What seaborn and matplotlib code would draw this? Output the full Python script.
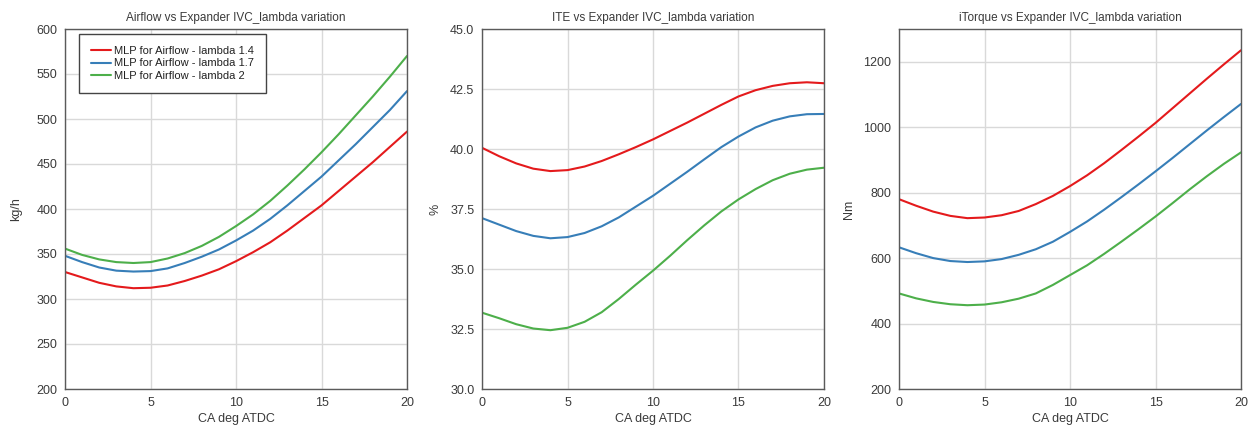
import numpy as np
import pandas as pd
import seaborn as sns
import matplotlib.pyplot as plt

# ============ Data ============
ca = list(range(0, 21))
lambdas = ['lambda 1.4', 'lambda 1.7', 'lambda 2']

airflow_14 = [330, 324, 318, 314, 312, 312.5, 315, 320, 326, 333, 342,
              352, 363, 376, 390, 404, 420, 436, 452, 469, 486]
airflow_17 = [348, 341, 335, 331.5, 330.5, 331, 334, 340, 347, 355, 365,
              376, 389, 404, 420, 436, 454, 472, 491, 510, 531]
airflow_20 = [356, 349, 344, 341, 340, 341, 345, 351, 359, 369, 381,
              394, 409, 426, 444, 463, 483, 504, 525, 547, 570]

ite_14 = [40.05, 39.7, 39.4, 39.18, 39.08, 39.12, 39.27, 39.5, 39.78, 40.08, 40.4,
          40.75, 41.1, 41.47, 41.84, 42.19, 42.45, 42.63, 42.74, 42.78, 42.74]
ite_17 = [37.12, 36.85, 36.58, 36.38, 36.28, 36.33, 36.5, 36.78, 37.15, 37.6, 38.05,
          38.55, 39.05, 39.57, 40.08, 40.52, 40.9, 41.18, 41.36, 41.45, 41.46]
ite_20 = [33.18, 32.95, 32.7, 32.52, 32.45, 32.55, 32.8, 33.2, 33.75, 34.35, 34.93,
          35.55, 36.2, 36.82, 37.4, 37.9, 38.33, 38.7, 38.97, 39.14, 39.22]

torque_14 = [780, 760, 742, 729, 722, 724, 731, 744, 765, 790, 820,
             853, 890, 930, 971, 1013, 1058, 1103, 1148, 1192, 1235]
torque_17 = [633, 615, 600, 591, 588, 590, 597, 610, 627, 650, 680,
             712, 748, 786, 825, 865, 906, 948, 990, 1031, 1071]
torque_20 = [492, 477, 466, 459, 456, 458, 465, 476, 492, 518, 548,
             578, 613, 650, 688, 727, 768, 810, 850, 888, 923]


def long_df(series):
    frames = []
    for lam, vals in zip(lambdas, series):
        frames.append(pd.DataFrame({'CA': ca, 'value': vals,
                                    'series': 'MLP for Airflow - ' + lam}))
    return pd.concat(frames, ignore_index=True)


panels = [
    ('Airflow vs Expander IVC_lambda variation', 'kg/h',
     long_df([airflow_14, airflow_17, airflow_20]), (200, 600), np.arange(200, 601, 50), '{:.0f}'),
    ('ITE vs Expander IVC_lambda variation', '%',
     long_df([ite_14, ite_17, ite_20]), (30, 45), np.arange(30, 45.1, 2.5), '{:.1f}'),
    ('iTorque vs Expander IVC_lambda variation', 'Nm',
     long_df([torque_14, torque_17, torque_20]), (200, 1300), np.arange(200, 1201, 200), '{:.0f}'),
]

# ============ Style ============
sns.set_style('whitegrid')
plt.rcParams['font.family'] = ['Liberation Sans', 'DejaVu Sans']
plt.rcParams['font.size'] = 8.5
palette = ['#e41a1c', '#377eb8', '#4daf4a']
text_c = '#3a3a3a'

fig = plt.figure(figsize=(12.55, 4.26), dpi=100)
lefts = [65 / 1255, 482 / 1255, 899 / 1255]
for i, (title, ylab, df, ylim, yt, fmt) in enumerate(panels):
    ax = fig.add_axes([lefts[i], 37 / 426, 342 / 1255, 360 / 426])
    sns.lineplot(data=df, x='CA', y='value', hue='series', palette=palette,
                 linewidth=1.5, ax=ax, legend=(i == 0))
    ax.set_xlim(0, 20)
    ax.set_ylim(*ylim)
    ax.set_xticks([0, 5, 10, 15, 20])
    ax.set_yticks(yt)
    ax.set_yticklabels([fmt.format(v) for v in yt])
    ax.set_title(title, fontsize=8.5, color=text_c, pad=6)
    ax.set_xlabel('CA deg ATDC', fontsize=9, color=text_c, labelpad=3)
    ax.set_ylabel(ylab, fontsize=9, color=text_c, labelpad=10 if i == 0 else 6)
    ax.grid(True, color='#d9d9d9', linewidth=1.0)
    ax.tick_params(direction='in', length=3, width=0.8, color='#555555',
                   labelcolor=text_c, labelsize=9, pad=5.5)
    for s in ax.spines.values():
        s.set_color('#5a5a5a')
        s.set_linewidth(1.0)
    if i == 0:
        leg = ax.legend(loc='upper left', bbox_to_anchor=(14 / 342, 1 - 5 / 360),
                        borderaxespad=0, fontsize=8, frameon=True, fancybox=False,
                        handlelength=1.8, borderpad=1.05, labelspacing=0.25,
                        handletextpad=0.3)
        leg.get_frame().set_edgecolor('#444444')
        leg.get_frame().set_linewidth(1.0)
        leg.get_frame().set_alpha(1)
        for t in leg.get_texts():
            t.set_color('#222222')

fig.savefig('out.png', dpi=100)
